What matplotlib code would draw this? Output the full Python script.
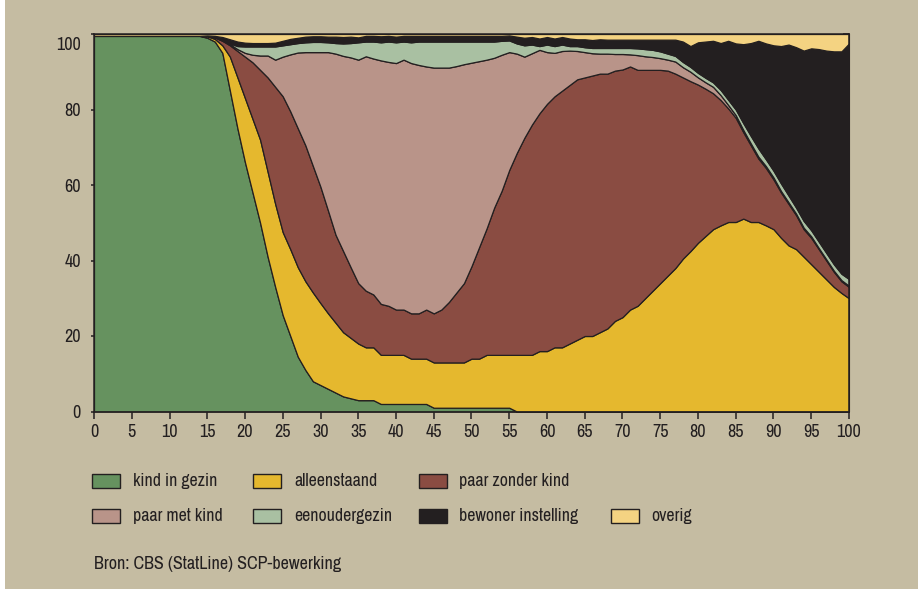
import matplotlib
matplotlib.use("Agg")
import matplotlib.pyplot as plt
from matplotlib.patches import Rectangle
from matplotlib.transforms import ScaledTranslation
import numpy as np

plt.rcParams['font.family'] = ['Archivo Narrow', 'Liberation Sans', 'DejaVu Sans']

ages = list(range(0, 101))

kind_in_gezin = [99.5, 99.5, 99.5, 99.5, 99.5, 99.5, 99.5, 99.5, 99.5, 99.5, 99.5, 99.5, 99.5, 99.5, 99.5,
                 99, 98, 95, 85, 75, 66, 58, 50, 41, 33, 25.5, 20, 14.5, 11, 8,
                 7, 6, 5, 4, 3.5, 3, 3, 3, 2, 2, 2, 2, 2, 2, 2,
                 1, 1, 1, 1, 1, 1, 1, 1, 1, 1, 1,
                 0, 0, 0, 0, 0, 0, 0, 0, 0, 0, 0, 0, 0, 0, 0,
                 0, 0, 0, 0, 0, 0, 0, 0, 0, 0, 0, 0, 0, 0, 0,
                 0, 0, 0, 0, 0, 0, 0, 0, 0, 0, 0, 0, 0, 0, 0]

alleenstaand = [0, 0, 0, 0, 0, 0, 0, 0, 0, 0, 0, 0, 0, 0, 0,
                0.4, 0.7, 2, 9, 13.5, 17, 19.5, 22, 22.5, 22, 22, 23, 23.7, 23.5, 23.5,
                21.7, 20, 18.5, 17, 16, 15, 14, 14, 13, 13, 13, 13, 12, 12, 12,
                12, 12, 12, 12, 12, 13, 13, 14, 14, 14, 14,
                15, 15, 15, 16, 16, 17, 17, 18, 19, 20, 20, 21, 22, 24, 25, 27, 28, 30, 32, 34,
                36, 38, 40.5, 42.5, 44.7, 46.5, 48.3, 49.3, 50.2, 50.2, 51.1, 50.2, 50.2, 49.3, 48.3,
                46, 44, 43, 41, 39, 37, 35, 33, 31.4, 30]

paar_zonder_kind = [0, 0, 0, 0, 0, 0, 0, 0, 0, 0, 0, 0, 0, 0, 0,
                    0.1, 0.4, 1.2, 3, 7, 11, 15, 18.5, 25, 31, 36, 36.5, 36.8, 36, 33.5,
                    30.8, 27.2, 23.3, 21.5, 18.7, 16, 15, 14, 13.5, 13, 12, 12, 12, 12, 13,
                    13, 14, 16, 18.5, 21, 24.5, 29.5, 33.5, 39, 43.5, 49,
                    53.5, 57.5, 61, 63, 65.5, 66.5, 68, 68.5, 69, 68.5, 69, 68.5, 67.5, 66.3, 65.6,
                    64.4, 62.5, 60.5, 58.5, 56.5, 54.3, 51.5, 48, 45, 41.9, 39, 36, 33.2, 30.1, 27.6,
                    22.9, 20.3, 16.8, 15.2, 13.2, 12, 11, 9, 7.3, 7, 6, 5, 4, 3.1, 3]

paar_met_kind = [0, 0, 0, 0, 0, 0, 0, 0, 0, 0, 0, 0, 0, 0, 0,
                 0, 0.1, 0.1, 0.3, 0.5, 1, 2, 3.8, 5.8, 7.2, 10.5, 15.1, 20.1, 24.7, 30.2,
                 35.7, 42, 48, 51.7, 55.6, 59.2, 62.1, 62.5, 64.5, 64.6, 65.3, 66.2, 66.3, 65.8, 64.4,
                 65.1, 64.1, 62.1, 60, 58, 53.9, 49.3, 44.7, 39.7, 36, 31.2,
                 26.3, 21.5, 18.9, 16.8, 13.7, 11.5, 10.5, 9.1, 7.5, 6.7, 5.9, 5.3, 5.3, 4.4, 4.1,
                 3.2, 3.9, 3.6, 3.4, 3.1, 2.9, 3.2, 2.7, 2.5, 1.9, 1.7, 1.7, 1.3, 0.9, 0.7,
                 0.6, 0.5, 0.5, 0.5, 0.5, 0.4, 0.4, 0.4, 0.4, 0.4, 0.3, 0.3, 0.3, 0.3, 0.3]

eenoudergezin = [0, 0, 0, 0, 0, 0, 0, 0, 0, 0, 0, 0, 0, 0, 0,
                 0, 0.1, 0.2, 0.2, 0.8, 1.7, 2.2, 2.4, 2.4, 3.5, 3, 2.7, 2.5, 2.6, 2.7,
                 2.7, 2.6, 2.8, 3.3, 3.8, 4.6, 3.9, 4.5, 4.8, 5.4, 5.5, 4.8, 5.5, 6.2, 6.6,
                 6.9, 6.9, 6.9, 6.5, 6, 5.6, 5.2, 4.8, 4.3, 3.7, 3.1,
                 2.7, 3, 2.3, 1, 2, 1.8, 1.7, 1.2, 1.3, 1.3, 1.4, 1.5, 1.5, 1.6, 1.6,
                 1.7, 1.8, 1.9, 1.9, 1.8, 1.6, 1.5, 1.4, 1.3, 1.2, 1.2, 1.2, 1.4, 1.4, 1.5,
                 1.8, 2, 2.2, 1.8, 1.8, 2, 1.8, 1.6, 1.8, 1.6, 1.7, 1.7, 1.7, 1.7, 1.8]

bewoner_instelling = [0, 0, 0, 0, 0, 0, 0, 0, 0, 0, 0, 0, 0, 0, 0,
                      0.1, 0.2, 0.7, 1.1, 1.2, 1, 0.9, 0.9, 0.9, 1, 1.2, 1.4, 1.4, 1.5, 1.5,
                      1.5, 1.5, 1.7, 1.7, 1.7, 1.3, 1.5, 1.5, 1.6, 1.5, 1.5, 1.5, 1.7, 1.5, 1.5,
                      1.5, 1.5, 1.5, 1.5, 1.5, 1.5, 1.5, 1.5, 1.5, 1.3, 1.3,
                      1.8, 2, 2, 2, 2, 2, 2, 2, 1.8, 2.1, 2.1, 2.3, 2.2, 2.2, 2.2,
                      2.2, 2.3, 2.5, 2.7, 3.1, 3.7, 4.3, 5.4, 5.5, 8.1, 9.6, 11, 12.4, 15.6, 17.5,
                      20.9, 24.6, 28.5, 30.7, 33.2, 36.4, 40, 42.5, 45.1, 48.2, 51, 53.6, 56.4, 58.9, 62.4]

overig = [0.5, 0.5, 0.5, 0.5, 0.5, 0.5, 0.5, 0.5, 0.5, 0.5, 0.5, 0.5, 0.5, 0.5, 0.5,
          0.4, 0.5, 0.8, 1.4, 2, 2.3, 2.4, 2.4, 2.4, 2.3, 1.8, 1.3, 1, 0.7, 0.6,
          0.6, 0.7, 0.7, 0.8, 0.7, 0.9, 0.5, 0.5, 0.6, 0.5, 0.7, 0.5, 0.5, 0.5, 0.5,
          0.5, 0.5, 0.5, 0.5, 0.5, 0.5, 0.5, 0.5, 0.5, 0.5, 0.4,
          0.7, 1, 0.8, 1.2, 0.8, 1.2, 0.8, 1.2, 1.4, 1.4, 1.6, 1.4, 1.5, 1.5, 1.5,
          1.5, 1.5, 1.5, 1.5, 1.5, 1.5, 1.5, 2, 3.2, 2.2, 2, 1.8, 2.4, 1.8, 2.5,
          2.7, 2.4, 1.8, 2.5, 3, 3.2, 2.8, 3.5, 4.4, 3.8, 4, 4.4, 4.6, 4.6, 2.5]

labels = ["kind in gezin", "alleenstaand", "paar zonder kind", "paar met kind",
          "eenoudergezin", "bewoner instelling", "overig"]
colors = ["#66925f", "#e5b82e", "#8a4c42", "#b99489", "#a9c0a2", "#231f20", "#f4d382"]
series = [kind_in_gezin, alleenstaand, paar_zonder_kind, paar_met_kind,
          eenoudergezin, bewoner_instelling, overig]

xticks = list(range(0, 101, 5))
yticks = [0, 20, 40, 60, 80, 100]

BG = "#c5bca2"
DARK = "#231f20"

fig = plt.figure(figsize=(9.2, 5.92), dpi=100)
fig.patch.set_facecolor("white")
fig.patches.append(Rectangle((5 / 920, 3 / 592), 913 / 920, 589 / 592,
                             transform=fig.transFigure, facecolor=BG,
                             edgecolor="none", zorder=-10))

ax = fig.add_axes([94 / 920, 1 - 411.5 / 592, 755 / 920, 377.5 / 592])
ax.set_facecolor(BG)
ax.stackplot(ages, *series, colors=colors, edgecolor=DARK, linewidth=0.9)
ax.set_xlim(0, 100)
ax.set_ylim(0, 100)
ax.set_xticks(xticks)
ax.set_yticks(yticks)
ax.set_xticklabels([str(t) for t in xticks])
ax.set_yticklabels([str(t) for t in yticks])
for s in ax.spines.values():
    s.set_color(DARK)
    s.set_linewidth(1.1)
ax.tick_params(axis='x', direction='out', length=5, width=1.1, color=DARK,
               labelsize=13, labelcolor=DARK, pad=4)
ax.tick_params(axis='y', direction='out', length=2.5, width=1.1, color=DARK,
               labelsize=13, labelcolor=DARK, pad=7)
# right side ticks inward
ax2 = ax.secondary_yaxis('right')
ax2.set_yticks(yticks)
ax2.tick_params(axis='y', direction='in', length=4, width=1.1, color=DARK, labelright=False)
ax2.spines['right'].set_color(DARK)

# shift the "100" label down as in the reference
offset = ScaledTranslation(0, -9 / 100, fig.dpi_scale_trans)
for lab in ax.get_yticklabels():
    if lab.get_text() == "100":
        lab.set_transform(lab.get_transform() + offset)

# legend drawn manually
rows = [481.3, 516.3]
cols_patch = [92.5, 253.5, 419, 611]
positions = [(0, 0), (0, 1), (0, 2), (1, 0), (1, 1), (1, 2), (1, 3)]
for (r, c), lab, col in zip(positions, labels, colors):
    px = cols_patch[c]
    py = rows[r]
    fig.patches.append(Rectangle((px / 920, 1 - (py + 7) / 592), 28 / 920, 14 / 592,
                                 transform=fig.transFigure, facecolor=col,
                                 edgecolor=DARK, linewidth=1.0))
    fig.text((px + 40.5) / 920, 1 - py / 592, lab, fontsize=12.8, color=DARK,
             va='center', ha='left')

fig.text(94 / 920, 1 - 564.3 / 592, "Bron: CBS (StatLine) SCP-bewerking",
         fontsize=13, color=DARK, va='center', ha='left')

fig.savefig("out.png", dpi=100, facecolor=fig.get_facecolor())
